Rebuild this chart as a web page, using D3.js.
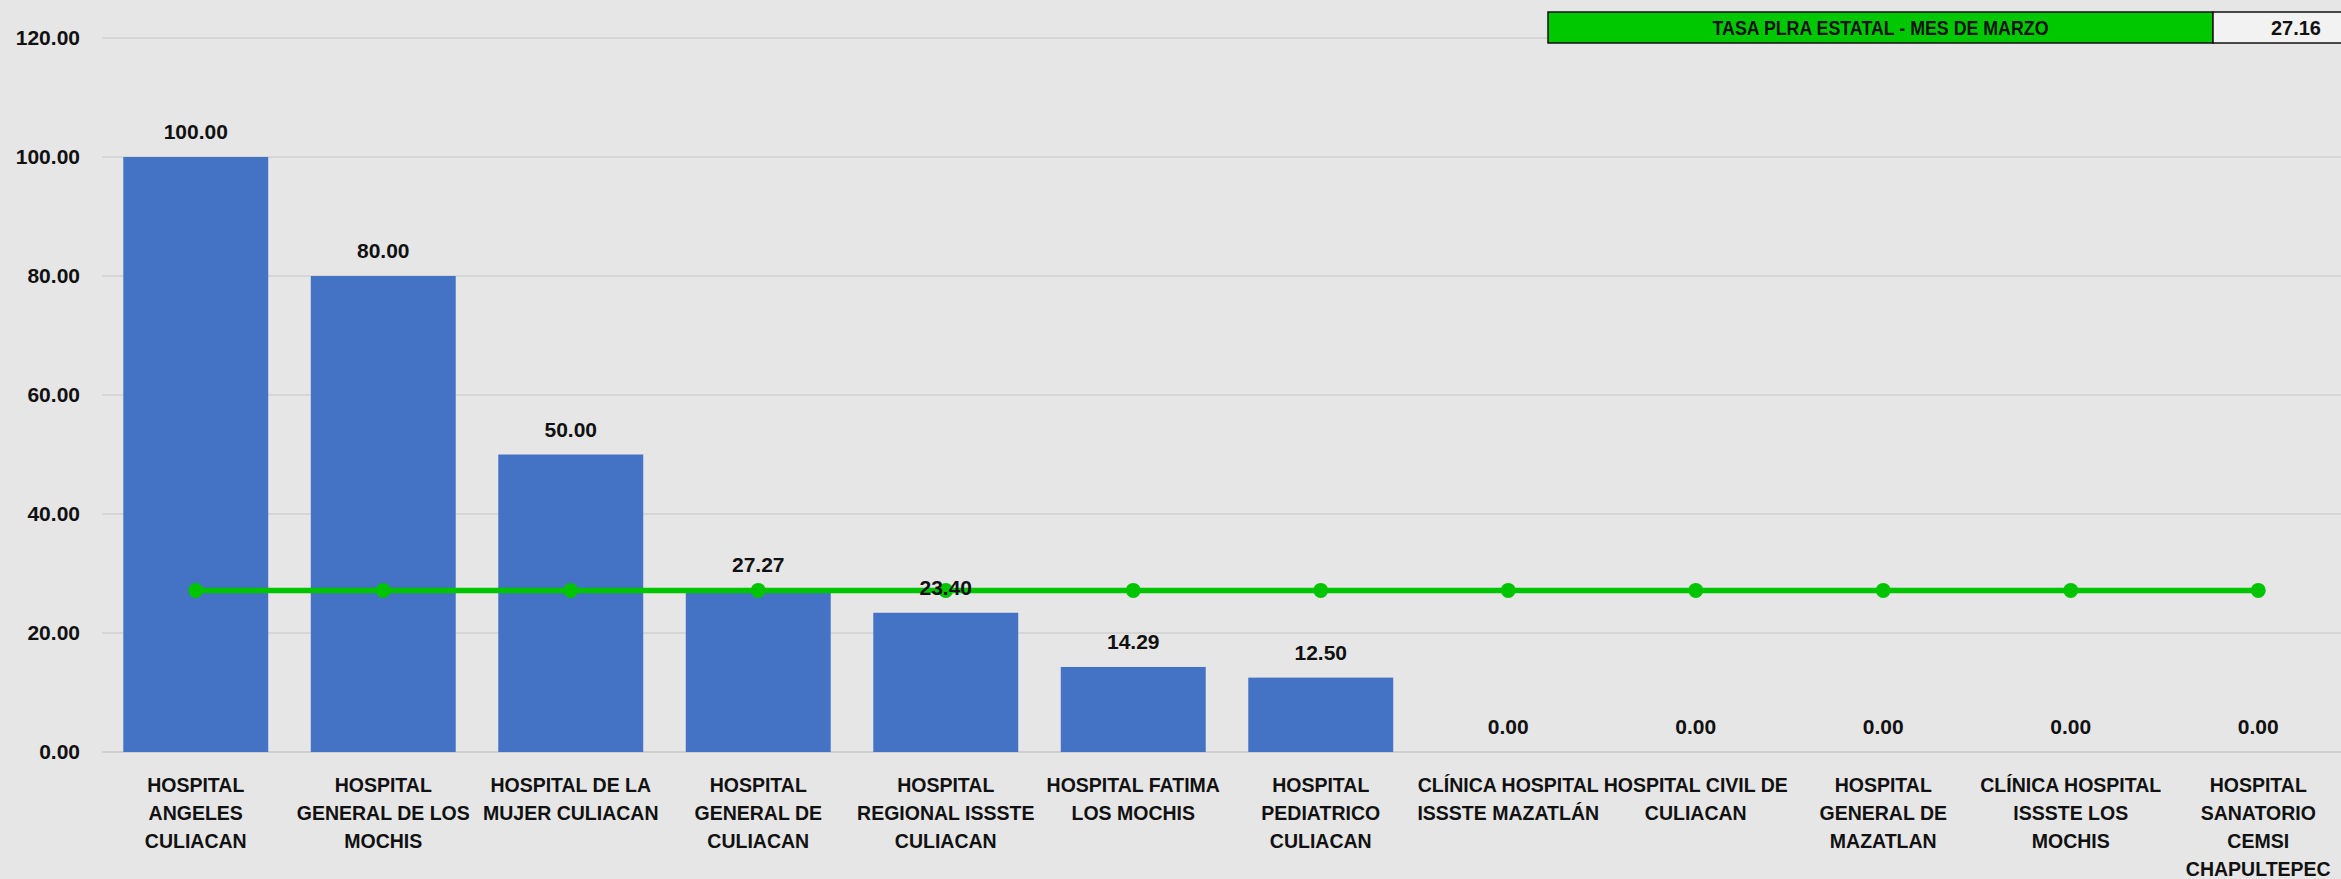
<!DOCTYPE html>
<html>
<head>
<meta charset="utf-8">
<script src="https://cdn.jsdelivr.net/npm/d3@7"></script>
<style>
  body { margin: 0; background: #e6e6e6; }
  svg { display: block; font-family: "Liberation Sans", Arial, sans-serif; }
</style>
</head>
<body>
<svg id="chart"></svg>
<script>
// hospital names, one array per label line (as wrapped in the original)
const hospitals = [
  ['HOSPITAL', 'ANGELES', 'CULIACAN'],
  ['HOSPITAL', 'GENERAL DE LOS', 'MOCHIS'],
  ['HOSPITAL DE LA', 'MUJER CULIACAN'],
  ['HOSPITAL', 'GENERAL DE', 'CULIACAN'],
  ['HOSPITAL', 'REGIONAL ISSSTE', 'CULIACAN'],
  ['HOSPITAL FATIMA', 'LOS MOCHIS'],
  ['HOSPITAL', 'PEDIATRICO', 'CULIACAN'],
  ['CLÍNICA HOSPITAL', 'ISSSTE MAZATLÁN'],
  ['HOSPITAL CIVIL DE', 'CULIACAN'],
  ['HOSPITAL', 'GENERAL DE', 'MAZATLAN'],
  ['CLÍNICA HOSPITAL', 'ISSSTE LOS', 'MOCHIS'],
  ['HOSPITAL', 'SANATORIO', 'CEMSI', 'CHAPULTEPEC']
];
const tasas = [100.00, 80.00, 50.00, 27.27, 23.40, 14.29, 12.50, 0.00, 0.00, 0.00, 0.00, 0.00];
const tasaEstatal = 27.16;
const tituloEstatal = 'TASA PLRA ESTATAL - MES DE MARZO';
const yTicks = [0, 20, 40, 60, 80, 100, 120];

const W = 2341, H = 879;
const svg = d3.select('#chart').attr('width', W).attr('height', H);

svg.append('rect').attr('width', W).attr('height', H).attr('fill', '#e6e6e6');

const keys = hospitals.map((d, i) => i);

// scales
const x = d3.scaleBand()
  .domain(keys)
  .range([102, 2352])
  .paddingInner(0.227)
  .paddingOuter(0.1135);

const y = d3.scaleLinear()
  .domain([0, 120])
  .range([752, 38]);

// gridlines
svg.append('g')
  .selectAll('line')
  .data(yTicks)
  .join('line')
  .attr('x1', 102)
  .attr('x2', W)
  .attr('y1', d => y(d))
  .attr('y2', d => y(d))
  .attr('stroke', d => d === 0 ? '#cfcfcf' : '#d6d6d6')
  .attr('stroke-width', 2);

// y axis labels
const yAxis = d3.axisLeft(y)
  .tickValues(yTicks)
  .tickFormat(d3.format('.2f'))
  .tickSize(0)
  .tickPadding(0);

const yG = svg.append('g')
  .attr('transform', 'translate(80,0)')
  .call(yAxis);
yG.select('.domain').remove();
yG.selectAll('text')
  .attr('font-size', 21)
  .attr('font-weight', 'bold')
  .attr('fill', '#111')
  .attr('font-family', '"Liberation Sans", Arial, sans-serif');

// bars
svg.append('g')
  .selectAll('rect')
  .data(tasas)
  .join('rect')
  .attr('x', (d, i) => x(i))
  .attr('y', d => y(d))
  .attr('width', x.bandwidth())
  .attr('height', d => y(0) - y(d))
  .attr('fill', '#4472c4');

// state rate line
const line = d3.line()
  .x(d => x(d) + x.bandwidth() / 2)
  .y(() => y(tasaEstatal));

svg.append('path')
  .datum(keys)
  .attr('d', line)
  .attr('fill', 'none')
  .attr('stroke', '#00c400')
  .attr('stroke-width', 5.5);

svg.append('g')
  .selectAll('circle')
  .data(keys)
  .join('circle')
  .attr('cx', d => x(d) + x.bandwidth() / 2)
  .attr('cy', y(tasaEstatal))
  .attr('r', 7.5)
  .attr('fill', '#00c400');

// data labels
svg.append('g')
  .selectAll('text')
  .data(tasas)
  .join('text')
  .attr('x', (d, i) => x(i) + x.bandwidth() / 2)
  .attr('y', d => y(d) - 18)
  .attr('text-anchor', 'middle')
  .attr('font-size', 21)
  .attr('font-weight', 'bold')
  .attr('fill', '#111')
  .text(d => d3.format('.2f')(d));

// category labels
const xl = svg.append('g')
  .selectAll('text')
  .data(hospitals)
  .join('text')
  .attr('x', (d, i) => x(i) + x.bandwidth() / 2)
  .attr('y', 792)
  .attr('text-anchor', 'middle')
  .attr('font-size', 19.5)
  .attr('font-weight', 'bold')
  .attr('fill', '#111');

xl.selectAll('tspan')
  .data(d => d)
  .join('tspan')
  .attr('x', function() { return this.parentNode.getAttribute('x'); })
  .attr('dy', (d, i) => i === 0 ? 0 : 28)
  .text(d => d);

// state rate box top right
const box = svg.append('g');
box.append('rect')
  .attr('x', 1548).attr('y', 12)
  .attr('width', 2213 - 1548).attr('height', 31)
  .attr('fill', '#00c800')
  .attr('stroke', '#111').attr('stroke-width', 1.5);
box.append('rect')
  .attr('x', 2213).attr('y', 12)
  .attr('width', 140).attr('height', 31)
  .attr('fill', '#f2f2f2')
  .attr('stroke', '#111').attr('stroke-width', 1.5);
box.append('text')
  .attr('x', (1548 + 2213) / 2).attr('y', 35)
  .attr('text-anchor', 'middle')
  .attr('font-size', 20)
  .attr('font-weight', 'bold')
  .attr('fill', '#111')
  .attr('textLength', 336)
  .attr('lengthAdjust', 'spacingAndGlyphs')
  .text(tituloEstatal);
box.append('text')
  .attr('x', 2321).attr('y', 35)
  .attr('text-anchor', 'end')
  .attr('font-size', 20)
  .attr('font-weight', 'bold')
  .attr('fill', '#111')
  .text(d3.format('.2f')(tasaEstatal));
</script>
</body>
</html>
